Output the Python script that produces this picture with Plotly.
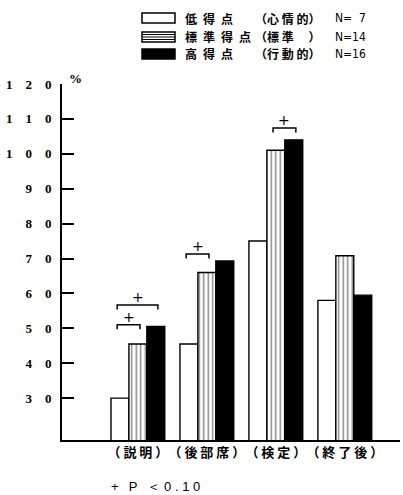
import plotly.graph_objects as go

# ---- data ----
categories = ["（ 説 明 ）", "（ 後 部 席 ）", "（ 検 定 ）", "（ 終 了 後 ）"]
low_scores = [30, 45.5, 75, 58]          # 低得点（心情的）N=7
standard_scores = [45.5, 66, 101, 70.8]  # 標準得点（標準）N=14
high_scores = [50.5, 69.3, 104, 59.5]    # 高得点（行動的）N=16
y_ticks = [30, 40, 50, 60, 70, 80, 90, 100, 110, 120]
y_tick_text = ["\u2003".join(str(v)) for v in y_ticks]

# significance brackets: (group index, bar a, bar b, bracket level)
brackets = [(0, 0, 1, 51.0), (0, 0, 2, 56.7), (1, 0, 1, 71.3), (2, 1, 2, 107.4)]

# ---- layout geometry (pixels) ----
W, H = 403, 495
L, R, T, B = 62, 3, 84, 55
PW, PH = W - L - R, H - T - B


def px(x):
    return (x - L) / PW


def py(y):
    return (H - B - y) / PH


xpos = list(range(len(categories)))
bar_w = 0.26
offsets = [-bar_w, 0, bar_w]

fig = go.Figure()
fig.add_bar(x=xpos, y=low_scores, name="低得点",
            marker=dict(color="white", line=dict(color="black", width=1.4)))
fig.add_bar(x=xpos, y=standard_scores, name="標準得点",
            marker=dict(color="white", line=dict(color="black", width=1.4),
                        pattern=dict(shape="|", fgcolor="black", bgcolor="white",
                                     size=4.5, solidity=0.3)))
fig.add_bar(x=xpos, y=high_scores, name="高得点",
            marker=dict(color="black", line=dict(color="black", width=1.4)))

shapes = []
annotations = []

# brackets with "+" marks
drop = 1.3
for g, a, b, lvl in brackets:
    x0 = g + offsets[a] - 0.04
    x1 = g + offsets[b] + 0.03
    shapes.append(dict(type="path", xref="x", yref="y",
                       path=f"M {x0},{lvl - drop} L {x0},{lvl} L {x1},{lvl} L {x1},{lvl - drop}",
                       line=dict(color="black", width=1.5)))
    annotations.append(dict(x=(x0 + x1) / 2, y=lvl, xref="x", yref="y", text="+",
                            showarrow=False, yanchor="bottom", yshift=-2,
                            font=dict(family="DejaVu Sans", size=14, color="black")))

# legend drawn as boxes and text rows
sp = "\u2002"
rows = [
    ("white", None, sp.join("低得点"), "（心 情 的）", "N=  7", 18),
    ("white", "stripes", sp.join("標準得点"), "（標 準　 ）", "N=14", 37),
    ("black", None, sp.join("高得点"), "（行 動 的）", "N=16", 54),
]
bx0, bx1 = 142, 175
for fill, deco, name, paren, n, yc in rows:
    shapes.append(dict(type="rect", xref="paper", yref="paper",
                       x0=px(bx0), x1=px(bx1), y0=py(yc + 5), y1=py(yc - 5),
                       fillcolor=fill, line=dict(color="black", width=1.5)))
    if deco == "stripes":
        for yy in (yc - 2.5, yc, yc + 2.5):
            shapes.append(dict(type="line", xref="paper", yref="paper",
                               x0=px(bx0), x1=px(bx1), y0=py(yy), y1=py(yy),
                               line=dict(color="black", width=1)))
    for xx, txt, fam, size in ((183, name, "Noto Sans CJK JP", 12),
                               (253, paren, "Noto Sans CJK JP", 12),
                               (333, n, "Liberation Sans Narrow, DejaVu Sans Condensed, sans-serif", 12)):
        annotations.append(dict(x=px(xx), y=py(yc), xref="paper", yref="paper", text=txt,
                                showarrow=False, xanchor="left", yanchor="middle",
                                font=dict(family=fam, size=size, color="black",
                                          weight="bold" if "CJK" in fam else "normal")))

# axis unit and footnote
annotations.append(dict(x=px(67), y=py(69), xref="paper", yref="paper", text="%",
                        showarrow=False, font=dict(family="Liberation Serif", size=13,
                                                   color="black", weight="bold")))
annotations.append(dict(x=px(109), y=py(486), xref="paper", yref="paper",
                        text="+\u2002 P\u2002 ＜ 0 . 1 0", showarrow=False,
                        xanchor="left", yanchor="middle",
                        font=dict(family="Liberation Sans, sans-serif", size=13, color="black")))

fig.update_layout(
    width=W, height=H,
    margin=dict(l=L, r=R, t=T, b=B, pad=0),
    paper_bgcolor="white", plot_bgcolor="white",
    barmode="group", bargap=0.22, bargroupgap=0,
    showlegend=False,
    shapes=shapes, annotations=annotations,
    xaxis=dict(range=[-1.1, 3.8], tickvals=xpos, ticktext=categories,
               tickangle=0, automargin=False,
               showline=True, linecolor="black", linewidth=1.5,
               showgrid=False, zeroline=False, ticks="",
               tickfont=dict(family="Noto Sans CJK JP", size=13, color="black", weight="bold")),
    yaxis=dict(range=[18, 120], tickvals=y_ticks, ticktext=y_tick_text,
               automargin=False,
               showline=True, linecolor="black", linewidth=1.8,
               showgrid=False, zeroline=False,
               ticks="inside", ticklen=12, tickwidth=1.5, tickcolor="black",
               ticklabelstandoff=6,
               tickfont=dict(family="Liberation Serif", size=13, color="black", weight="bold")),
)

fig.write_html("out.html")
